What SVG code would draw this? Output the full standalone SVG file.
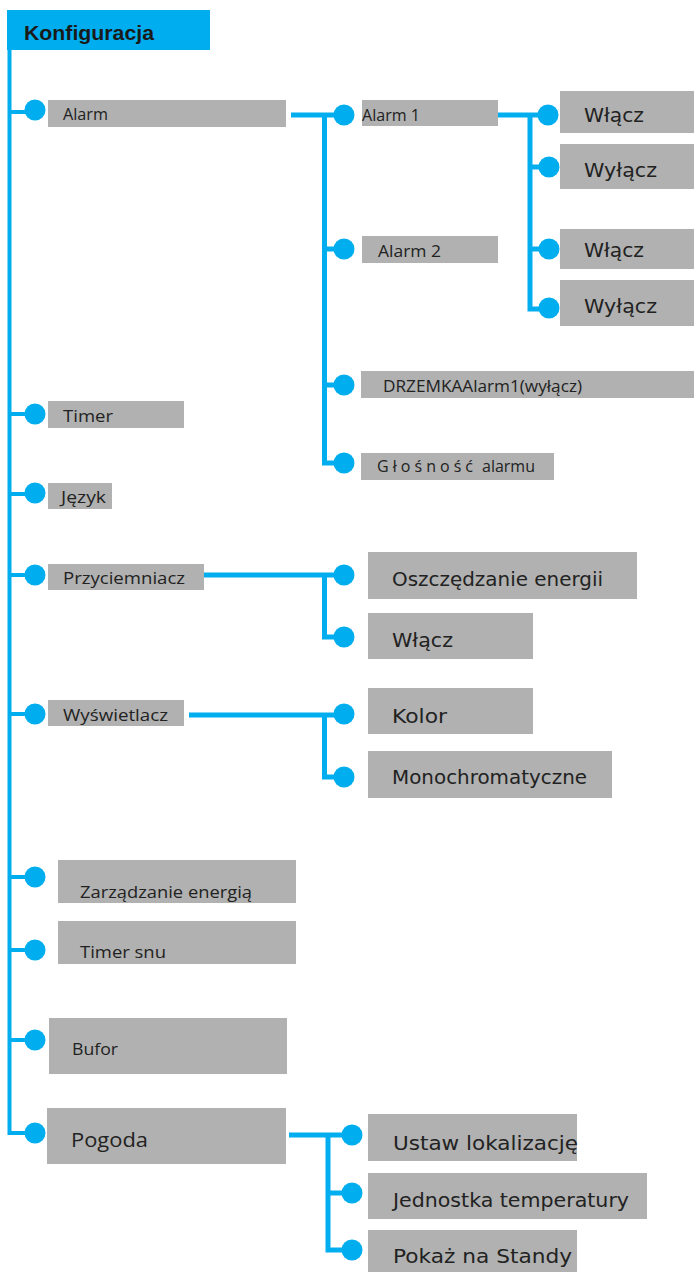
<svg xmlns="http://www.w3.org/2000/svg" width="694" height="1272" viewBox="0 0 694 1272">
<style>
.box{fill:#b0b1b0}
.dot{fill:#00aeef}
.ln{fill:none;stroke:#00aeef;stroke-width:5}
.main{fill:none;stroke:#00aeef;stroke-width:4}
.a{font-family:"Open Sans","Noto Sans","Liberation Sans",sans-serif;font-size:16px;fill:#222}
.v{font-family:"DejaVu Sans","Liberation Sans",sans-serif;font-size:19px;fill:#222}
.h{font-family:"Liberation Sans",Arial,sans-serif;font-weight:bold;font-size:20px;fill:#1a1a1a}
</style>
<rect width="694" height="1272" fill="#ffffff"/>
<g id="connectors">
<path class="main" d="M9.5 50 V1133 H30"/>
<path class="main" d="M9.5 112 H30 M9.5 414 H30 M9.5 494 H30 M9.5 575 H30 M9.5 714 H30 M9.5 877 H30 M9.5 950 H30 M9.5 1040 H30"/>
<path class="ln" d="M291 115 H340 M324.5 115 V463 H340 M324.5 249 H340 M324.5 385 H340"/>
<path class="ln" d="M498 115 H545 M530 115 V309 H545 M530 167 H545 M530 249 H545"/>
<path class="ln" d="M189 575 H340 M324.5 575 V637 H340"/>
<path class="ln" d="M189 715 H340 M324.5 715 V777 H340"/>
<path class="ln" d="M289 1135 H348 M328 1135 V1250 H348 M328 1193 H348"/>
</g>
<g id="n-konfiguracja"><rect x="7" y="10" width="203" height="40" fill="#00aeef"/><text class="h" x="24" y="40" textLength="130" lengthAdjust="spacingAndGlyphs">Konfiguracja</text></g>
<g id="n-alarm"><circle class="dot" cx="35" cy="110" r="10.5"/><rect class="box" x="48" y="100" width="238" height="27"/><text class="a" x="63" y="120" textLength="45" lengthAdjust="spacingAndGlyphs">Alarm</text></g>
<g id="n-alarm1"><circle class="dot" cx="344" cy="115" r="10.5"/><rect class="box" x="362" y="100" width="136" height="26"/><text class="a" x="362" y="121" textLength="58" lengthAdjust="spacingAndGlyphs">Alarm 1</text></g>
<g id="n-alarm2"><circle class="dot" cx="344" cy="249" r="10.5"/><rect class="box" x="362" y="236" width="136" height="27"/><text class="a" x="378" y="257" textLength="63" lengthAdjust="spacingAndGlyphs">Alarm 2</text></g>
<g id="n-drzemka"><circle class="dot" cx="344" cy="385" r="10.5"/><rect class="box" x="361" y="371" width="333" height="27"/><text class="a" x="383" y="392" textLength="199" lengthAdjust="spacingAndGlyphs">DRZEMKAAlarm1(wyłącz)</text></g>
<g id="n-glosnosc"><circle class="dot" cx="344" cy="463" r="10.5"/><rect class="box" x="361" y="453" width="193" height="27"/><text class="a" x="377" y="472"><tspan textLength="96" lengthAdjust="spacing">Głośność</tspan> <tspan x="482" textLength="53" lengthAdjust="spacingAndGlyphs">alarmu</tspan></text></g>
<g id="n-wlacz1"><circle class="dot" cx="548" cy="115" r="10.5"/><rect class="box" x="560" y="91" width="134" height="42"/><text class="v" x="584" y="122" textLength="60" lengthAdjust="spacingAndGlyphs">Włącz</text></g>
<g id="n-wylacz1"><circle class="dot" cx="549" cy="167" r="10.5"/><rect class="box" x="560" y="144" width="134" height="45"/><text class="v" x="584" y="177" textLength="73" lengthAdjust="spacingAndGlyphs">Wyłącz</text></g>
<g id="n-wlacz2"><circle class="dot" cx="549" cy="249" r="10.5"/><rect class="box" x="560" y="229" width="134" height="40"/><text class="v" x="584" y="257" textLength="60" lengthAdjust="spacingAndGlyphs">Włącz</text></g>
<g id="n-wylacz2"><circle class="dot" cx="549" cy="308" r="10.5"/><rect class="box" x="560" y="280" width="134" height="46"/><text class="v" x="584" y="313" textLength="73" lengthAdjust="spacingAndGlyphs">Wyłącz</text></g>
<g id="n-timer"><circle class="dot" cx="35" cy="414" r="10.5"/><rect class="box" x="48" y="401" width="136" height="27"/><text class="a" x="63" y="422" textLength="50" lengthAdjust="spacingAndGlyphs">Timer</text></g>
<g id="n-jezyk"><circle class="dot" cx="35" cy="493" r="10.5"/><rect class="box" x="48" y="483" width="64" height="26"/><text class="a" x="61" y="503" textLength="45" lengthAdjust="spacingAndGlyphs">Język</text></g>
<g id="n-przyciemniacz"><circle class="dot" cx="35" cy="575" r="10.5"/><rect class="box" x="48" y="564" width="156" height="26"/><text class="a" x="63" y="584" textLength="122" lengthAdjust="spacingAndGlyphs">Przyciemniacz</text></g>
<g id="n-oszczedzanie"><circle class="dot" cx="344" cy="575" r="10.5"/><rect class="box" x="368" y="552" width="269" height="47"/><text class="v" x="392" y="586" textLength="211" lengthAdjust="spacingAndGlyphs">Oszczędzanie energii</text></g>
<g id="n-wlacz3"><circle class="dot" cx="344" cy="637" r="10.5"/><rect class="box" x="368" y="613" width="165" height="46"/><text class="v" x="392" y="647" textLength="61" lengthAdjust="spacingAndGlyphs">Włącz</text></g>
<g id="n-wyswietlacz"><circle class="dot" cx="35" cy="714" r="10.5"/><rect class="box" x="48" y="700" width="136" height="26"/><text class="a" x="63" y="721" textLength="105" lengthAdjust="spacingAndGlyphs">Wyświetlacz</text></g>
<g id="n-kolor"><circle class="dot" cx="344" cy="714" r="10.5"/><rect class="box" x="368" y="688" width="165" height="46"/><text class="v" x="392" y="723" textLength="55" lengthAdjust="spacingAndGlyphs">Kolor</text></g>
<g id="n-mono"><circle class="dot" cx="344" cy="777" r="10.5"/><rect class="box" x="368" y="751" width="244" height="47"/><text class="v" x="392" y="784" textLength="195" lengthAdjust="spacingAndGlyphs">Monochromatyczne</text></g>
<g id="n-zarzadzanie"><circle class="dot" cx="35" cy="877" r="10.5"/><rect class="box" x="58" y="860" width="238" height="43"/><text class="a" x="80" y="898" textLength="172" lengthAdjust="spacingAndGlyphs">Zarządzanie energią</text></g>
<g id="n-timersnu"><circle class="dot" cx="35" cy="950" r="10.5"/><rect class="box" x="58" y="921" width="238" height="43"/><text class="a" x="80" y="958" textLength="86" lengthAdjust="spacingAndGlyphs">Timer snu</text></g>
<g id="n-bufor"><circle class="dot" cx="35" cy="1040" r="10.5"/><rect class="box" x="49" y="1018" width="238" height="56"/><text class="a" x="72" y="1055" textLength="46" lengthAdjust="spacingAndGlyphs">Bufor</text></g>
<g id="n-pogoda"><circle class="dot" cx="35" cy="1133" r="10.5"/><rect class="box" x="47" y="1108" width="239" height="56"/><text class="a" x="71" y="1147" style="font-size:20px" textLength="77" lengthAdjust="spacingAndGlyphs">Pogoda</text></g>
<g id="n-ustaw"><circle class="dot" cx="352" cy="1135" r="10.5"/><rect class="box" x="368" y="1114" width="209" height="47"/><text class="v" x="393" y="1150" textLength="185" lengthAdjust="spacingAndGlyphs">Ustaw lokalizację</text></g>
<g id="n-jednostka"><circle class="dot" cx="352" cy="1193" r="10.5"/><rect class="box" x="368" y="1173" width="279" height="46"/><text class="v" x="393" y="1207" textLength="236" lengthAdjust="spacingAndGlyphs">Jednostka temperatury</text></g>
<g id="n-pokaz"><circle class="dot" cx="352" cy="1250" r="10.5"/><rect class="box" x="368" y="1230" width="209" height="42"/><text class="v" x="393" y="1263" textLength="179" lengthAdjust="spacingAndGlyphs">Pokaż na Standy</text></g>
</svg>
